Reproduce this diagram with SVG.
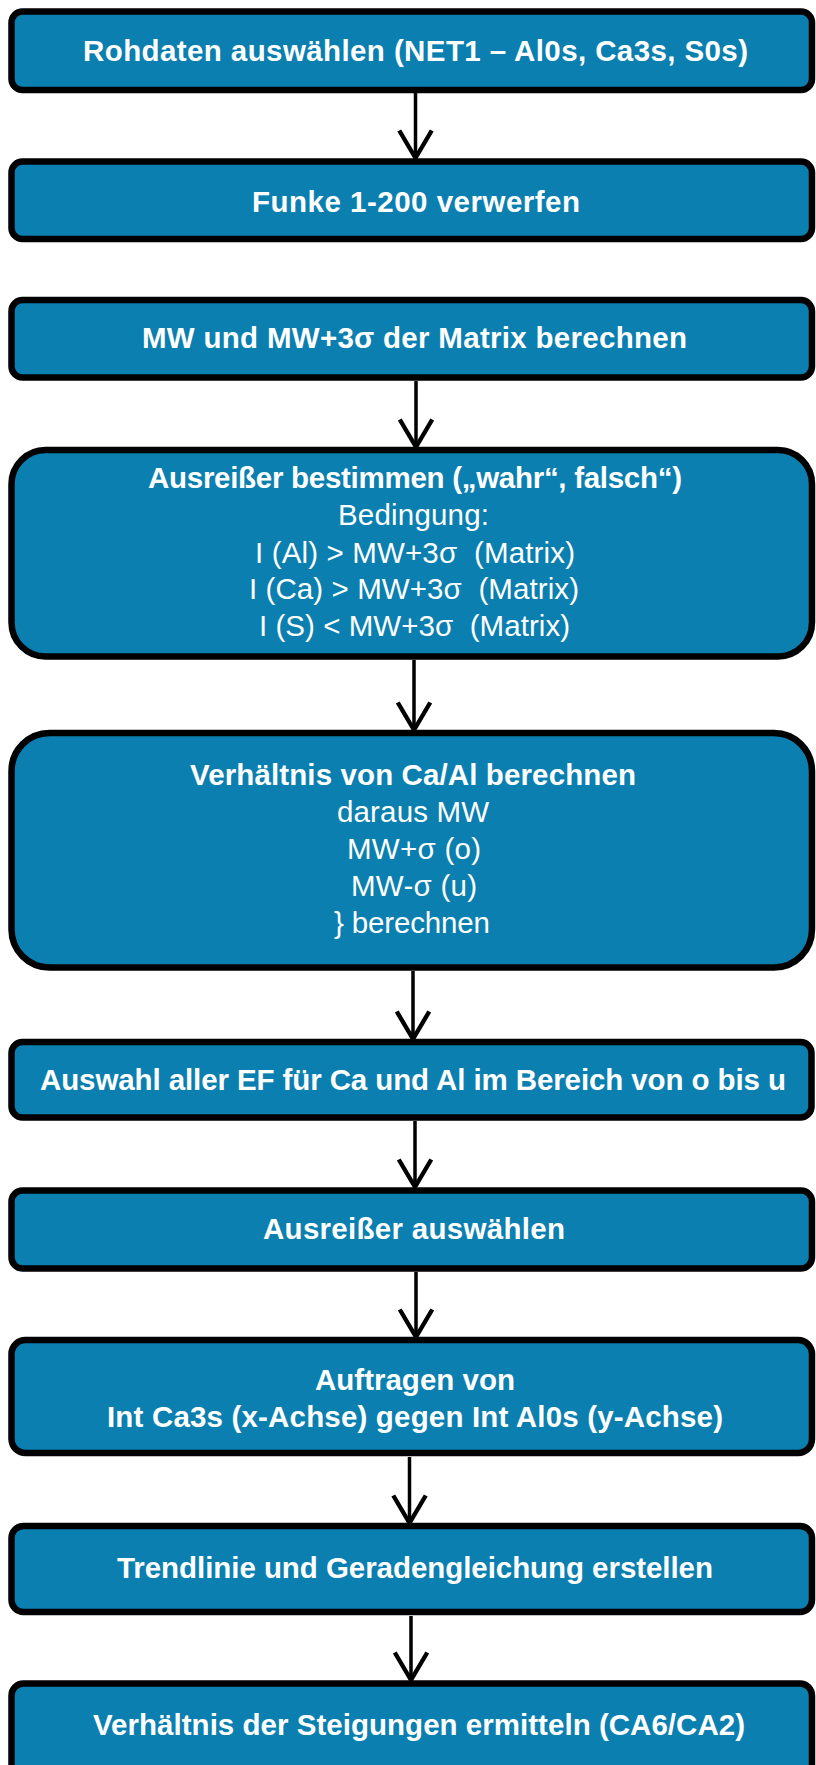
<svg xmlns="http://www.w3.org/2000/svg" width="816" height="1765" viewBox="0 0 816 1765">
  <defs>
    <style>
      .box { fill: #0a7fb0; stroke: #000; stroke-width: 6.5; }
      .t { fill: #fff; font-family: "Liberation Sans", Arial, sans-serif; font-size: 29.5px; text-anchor: middle; }
      .b { font-weight: bold; }
      .edge { stroke: #000; stroke-width: 3.5; fill: none; }
    </style>
    <marker id="arrow" markerUnits="userSpaceOnUse" markerWidth="40" markerHeight="40" viewBox="-26 -16 30 32" refX="0" refY="0" orient="auto">
      <path d="M-22,-13 L0,0 L-22,13" fill="none" stroke="#000" stroke-width="3.5" stroke-linejoin="miter"/>
    </marker>
  </defs>
  <rect width="816" height="1765" fill="#fff"/>

  <!-- connectors -->
  <g id="connectors">
    <line class="edge" x1="415.5" y1="93" x2="415.5" y2="158" marker-end="url(#arrow)"/>
    <line class="edge" x1="416" y1="381" x2="416" y2="447" marker-end="url(#arrow)"/>
    <line class="edge" x1="414" y1="660" x2="414" y2="730" marker-end="url(#arrow)"/>
    <line class="edge" x1="413" y1="971" x2="413" y2="1039" marker-end="url(#arrow)"/>
    <line class="edge" x1="415" y1="1121" x2="415" y2="1187" marker-end="url(#arrow)"/>
    <line class="edge" x1="416" y1="1272" x2="416" y2="1337" marker-end="url(#arrow)"/>
    <line class="edge" x1="409.5" y1="1457" x2="409.5" y2="1523" marker-end="url(#arrow)"/>
    <line class="edge" x1="411" y1="1616" x2="411" y2="1680" marker-end="url(#arrow)"/>
  </g>

  <g id="n1">
    <rect class="box" x="11.5" y="11.5" width="800.5" height="78.5" rx="11"/>
    <text class="t b" x="415.5" y="61" textLength="665" lengthAdjust="spacing">Rohdaten auswählen (NET1 – Al0s, Ca3s, S0s)</text>
  </g>

  <g id="n2">
    <rect class="box" x="11.5" y="161.5" width="800.5" height="77.5" rx="11"/>
    <text class="t b" x="416" y="212" textLength="328" lengthAdjust="spacing">Funke 1-200 verwerfen</text>
  </g>

  <g id="n3">
    <rect class="box" x="11.5" y="300" width="800.5" height="77.5" rx="11"/>
    <text class="t b" x="414.5" y="348" textLength="545" lengthAdjust="spacing">MW und MW+3σ der Matrix berechnen</text>
  </g>

  <g id="n4">
    <rect class="box" x="11.5" y="450" width="800.5" height="206.5" rx="34"/>
    <text class="t b" x="415" y="488" textLength="534" lengthAdjust="spacing">Ausreißer bestimmen („wahr“, falsch“)</text>
    <text class="t" x="413.5" y="525" textLength="151" lengthAdjust="spacing">Bedingung:</text>
    <text class="t" x="415" y="563" textLength="320" lengthAdjust="spacing" xml:space="preserve">I (Al) &gt; MW+3σ  (Matrix)</text>
    <text class="t" x="414" y="599" textLength="330" lengthAdjust="spacing" xml:space="preserve">I (Ca) &gt; MW+3σ  (Matrix)</text>
    <text class="t" x="414.5" y="636" textLength="311" lengthAdjust="spacing" xml:space="preserve">I (S) &lt; MW+3σ  (Matrix)</text>
  </g>

  <g id="n5">
    <rect class="box" x="11.5" y="733" width="800.5" height="234.5" rx="38"/>
    <text class="t b" x="413" y="785" textLength="446" lengthAdjust="spacing">Verhältnis von Ca/Al berechnen</text>
    <text class="t" x="413" y="822" textLength="152" lengthAdjust="spacing">daraus MW</text>
    <text class="t" x="414" y="859" textLength="134" lengthAdjust="spacing">MW+σ (o)</text>
    <text class="t" x="414" y="896" textLength="126" lengthAdjust="spacing">MW-σ (u)</text>
    <text class="t" x="412" y="933" textLength="156" lengthAdjust="spacing">} berechnen</text>
  </g>

  <g id="n6">
    <rect class="box" x="11.5" y="1042" width="800" height="75.5" rx="11"/>
    <text class="t b" x="413" y="1090" textLength="746" lengthAdjust="spacing">Auswahl aller EF für Ca und Al im Bereich von o bis u</text>
  </g>

  <g id="n7">
    <rect class="box" x="11.5" y="1190.5" width="800.5" height="78" rx="11"/>
    <text class="t b" x="414" y="1239" textLength="302" lengthAdjust="spacing">Ausreißer auswählen</text>
  </g>

  <g id="n8">
    <rect class="box" x="11.5" y="1340" width="800.5" height="113" rx="14"/>
    <text class="t b" x="415" y="1390" textLength="200" lengthAdjust="spacing">Auftragen von</text>
    <text class="t b" x="415" y="1427" textLength="616" lengthAdjust="spacing">Int Ca3s (x-Achse) gegen Int Al0s (y-Achse)</text>
  </g>

  <g id="n9">
    <rect class="box" x="11.5" y="1526" width="800.5" height="86" rx="12"/>
    <text class="t b" x="415" y="1578" textLength="596" lengthAdjust="spacing">Trendlinie und Geradengleichung erstellen</text>
  </g>

  <g id="n10">
    <rect class="box" x="11.5" y="1683.5" width="800.5" height="110" rx="12"/>
    <text class="t b" x="419" y="1735" textLength="652" lengthAdjust="spacing">Verhältnis der Steigungen ermitteln (CA6/CA2)</text>
  </g>
</svg>
